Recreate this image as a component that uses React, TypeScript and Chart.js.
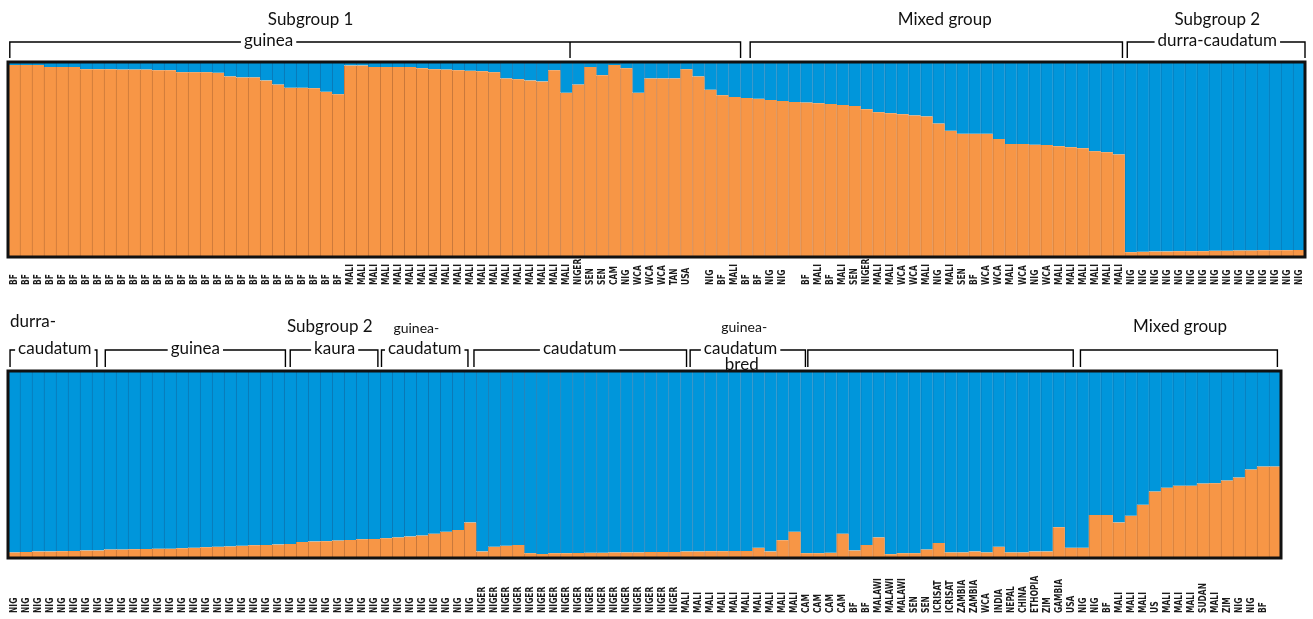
import React, { useEffect, useRef } from "react";
import { Chart, registerables } from "chart.js";
Chart.register(...registerables);

// ---------- DATA ----------
const topLabels: string[] = [
  ...Array(28).fill("BF"),
  ...Array(19).fill("MALI"),
  "NIGER", "SEN", "SEN", "CAM", "NIG", "WCA", "WCA", "WCA", "TAN", "USA",
  "", "NIG", "BF", "MALI", "BF", "BF", "NIG", "NIG", "",
  "BF", "MALI", "BF", "MALI", "SEN", "NIGER", "MALI", "MALI", "WCA", "WCA",
  "MALI", "NIG", "MALI", "SEN", "BF", "WCA", "WCA", "MALI", "WCA", "NIG",
  "WCA", "MALI", "MALI", "MALI", "MALI", "MALI", "MALI",
  ...Array(15).fill("NIG"),
];

const topOrange: number[] = [
  0.985, 0.985, 0.985, 0.974, 0.974, 0.974, 0.963, 0.963, 0.963, 0.961, 0.961, 0.961, 0.958, 0.958,
  0.947, 0.947, 0.947, 0.945, 0.926, 0.921, 0.921, 0.905, 0.884, 0.868, 0.868, 0.866, 0.847, 0.834,
  0.982, 0.982, 0.974, 0.974, 0.974, 0.974, 0.968, 0.963, 0.961, 0.958, 0.955, 0.953, 0.947, 0.916,
  0.911, 0.905, 0.9, 0.958, 0.842, 0.884, 0.974, 0.932, 0.984, 0.968, 0.842, 0.916, 0.916, 0.916,
  0.963, 0.926, 0.858, 0.829,
  0.821, 0.816, 0.811, 0.805, 0.8, 0.795, 0.792, 0.789, 0.784, 0.779, 0.774, 0.758, 0.742, 0.737,
  0.732, 0.726, 0.721, 0.684, 0.647, 0.632, 0.632, 0.632, 0.605, 0.579, 0.579, 0.576, 0.574, 0.568,
  0.563, 0.558, 0.542, 0.537, 0.526,
  0.025, 0.027, 0.028, 0.028, 0.03, 0.03, 0.03, 0.032, 0.032, 0.033, 0.033, 0.035, 0.035, 0.035, 0.036,
];

const bottomLabels: string[] = [
  ...Array(39).fill("NIG"),
  ...Array(17).fill("NIGER"),
  ...Array(10).fill("MALI"),
  "CAM", "CAM", "CAM", "CAM", "BF", "BF", "MALAWI", "MALAWI", "MALAWI", "SEN", "SEN",
  "ICRISAT", "ICRISAT", "ZAMBIA", "ZAMBIA", "WCA", "INDIA", "NEPAL", "CHINA", "ETHOPIA", "ZIM",
  "GAMBIA", "USA", "NIG", "NIG", "BF", "MALI", "MALI", "MALI", "US", "MALI", "MALI", "MALI",
  "SUDAN", "MALI", "ZIM", "NIG", "NIG", "BF", "",
];

const bottomOrange: number[] = [
  0.03, 0.032, 0.035, 0.035, 0.036, 0.038, 0.04, 0.04,
  0.045, 0.045, 0.047, 0.048, 0.05, 0.05, 0.052, 0.055,
  0.058, 0.06, 0.062, 0.065, 0.068, 0.07, 0.072, 0.075,
  0.085, 0.088, 0.09, 0.093, 0.096, 0.1, 0.102, 0.105,
  0.11, 0.115, 0.12, 0.13, 0.14, 0.15, 0.19,
  0.035, 0.06, 0.065, 0.07,
  0.025, 0.022, 0.025, 0.026, 0.027, 0.028, 0.028, 0.03, 0.03, 0.03, 0.032, 0.032, 0.032,
  0.035, 0.035, 0.036, 0.036, 0.038, 0.038,
  0.055, 0.035, 0.095, 0.14, 0.025, 0.025, 0.028, 0.13, 0.04, 0.07, 0.11, 0.02, 0.025, 0.025,
  0.045, 0.08, 0.03, 0.03, 0.035, 0.03, 0.06, 0.03, 0.03, 0.035, 0.035, 0.165, 0.055, 0.055,
  0.23, 0.23, 0.19, 0.226, 0.285, 0.355, 0.376, 0.387, 0.387, 0.398, 0.4, 0.414, 0.43, 0.473,
  0.489, 0.489,
];

// ---------- ANNOTATIONS (positions in bar units) ----------
type Bracket = { from: number; to: number; text?: string; at?: number; ticks?: number[] };
type Header = { text: string; at: number; y: number; align?: CanvasTextAlign; font?: string };

const topBrackets: Bracket[] = [
  { from: 0.15, to: 61, text: "guinea", at: 21.7, ticks: [46.8] },
  { from: 61.8, to: 92.8 },
  { from: 93.2, to: 108, text: "durra-caudatum", at: 100.7 },
];
const topHeaders: Header[] = [
  { text: "Subgroup 1", at: 25.2, y: 20 },
  { text: "Mixed group", at: 78, y: 20 },
  { text: "Subgroup 2", at: 100.7, y: 20 },
];

const bottomBrackets: Bracket[] = [
  { from: 0.17, to: 7.4, text: "caudatum", at: 3.9 },
  { from: 8.1, to: 23.1, text: "guinea", at: 15.6 },
  { from: 23.5, to: 30.8, text: "kaura", at: 27.2 },
  { from: 31.1, to: 38.3, text: "caudatum", at: 34.7 },
  { from: 38.8, to: 56.5, text: "caudatum", at: 47.6 },
  { from: 56.8, to: 66.4, text: "caudatum", at: 61.0 },
  { from: 66.6, to: 88.7 },
  { from: 89.3, to: 105.7 },
];
const bottomHeaders: Header[] = [
  { text: "durra-", at: 0.17, y: 12, align: "left" },
  { text: "Subgroup 2", at: 26.8, y: 17 },
  { text: "guinea-", at: 34.0, y: 18, font: "14px Lato, 'Open Sans', sans-serif" },
  { text: "guinea-", at: 61.3, y: 17, font: "14px Lato, 'Open Sans', sans-serif" },
  { text: "bred", at: 61.1, y: 55 },
  { text: "Mixed group", at: 97.6, y: 17 },
];

const ORANGE = "#F79646";
const BLUE = "#0096DB";
const TEXT_FONT = "17px Lato, 'Open Sans', sans-serif";

function decoPlugin(labels: string[], brackets: Bracket[], headers: Header[], labelBottom: number, lineY: number, tickBottom: number) {
  return {
    id: "deco",
    afterDatasetsDraw(chart: any) {
      const { ctx, chartArea: a } = chart;
      const n = labels.length;
      const bw = (a.right - a.left) / n;
      const ux = (u: number) => a.left + u * bw;
      ctx.save();
      // panel border
      ctx.strokeStyle = "#111";
      ctx.lineWidth = 3;
      ctx.strokeRect(a.left, a.top, a.right - a.left, a.bottom - a.top);
      // tick labels
      ctx.fillStyle = "#1a1a1a";
      ctx.font = "bold 10px 'DejaVu Sans Condensed', 'DejaVu Sans', sans-serif";
      ctx.textAlign = "left";
      ctx.textBaseline = "middle";
      const xs = chart.scales.x;
      labels.forEach((l, i) => {
        if (!l) return;
        ctx.save();
        ctx.translate(xs.getPixelForValue(i), labelBottom);
        ctx.rotate(-Math.PI / 2);
        ctx.scale(0.84, 1.05);
        ctx.fillText(l, 0, 0);
        ctx.restore();
      });
      // brackets
      ctx.strokeStyle = "#000";
      ctx.lineWidth = 1.4;
      ctx.fillStyle = "#111";
      ctx.font = TEXT_FONT;
      ctx.textAlign = "center";
      ctx.textBaseline = "middle";
      brackets.forEach((b) => {
        const x1 = ux(b.from), x2 = ux(b.to);
        ctx.beginPath();
        ctx.moveTo(x1, tickBottom);
        ctx.lineTo(x1, lineY);
        if (b.text && b.at !== undefined) {
          const w = ctx.measureText(b.text).width;
          const cx = ux(b.at);
          const l = Math.max(x1, cx - w / 2 - 3);
          const r = Math.min(x2, cx + w / 2 + 3);
          ctx.lineTo(l, lineY);
          ctx.moveTo(r, lineY);
          ctx.fillText(b.text, cx, lineY - 1);
        }
        ctx.lineTo(x2, lineY);
        ctx.lineTo(x2, tickBottom);
        (b.ticks || []).forEach((t) => {
          ctx.moveTo(ux(t), lineY);
          ctx.lineTo(ux(t), tickBottom);
        });
        ctx.stroke();
      });
      headers.forEach((h) => {
        ctx.font = h.font || TEXT_FONT;
        ctx.textAlign = h.align || "center";
        ctx.fillText(h.text, ux(h.at), h.y);
      });
      ctx.restore();
    },
  };
}

function makeConfig(labels: string[], orange: number[], pad: any, plugin: any): any {
  return {
    type: "bar",
    data: {
      labels,
      datasets: [
        {
          label: "Cluster 1",
          data: orange,
          backgroundColor: ORANGE,
          borderColor: "#C9783A",
          borderWidth: { left: 1, right: 0, top: 0, bottom: 0 },
          borderSkipped: false,
          barPercentage: 1,
          categoryPercentage: 1,
        },
        {
          label: "Cluster 2",
          data: orange.map((v) => 1 - v),
          backgroundColor: BLUE,
          borderColor: "#0A78B5",
          borderWidth: { left: 1, right: 0, top: 0, bottom: 0 },
          borderSkipped: false,
          barPercentage: 1,
          categoryPercentage: 1,
        },
      ],
    },
    options: {
      animation: false,
      responsive: false,
      devicePixelRatio: 1,
      layout: { padding: pad },
      plugins: { legend: { display: false }, tooltip: { enabled: false } },
      scales: {
        x: { stacked: true, display: false },
        y: { stacked: true, display: false, min: 0, max: 1 },
      },
    },
    plugins: [plugin],
  };
}

export default function App() {
  const topRef = useRef<HTMLCanvasElement>(null);
  const botRef = useRef<HTMLCanvasElement>(null);
  useEffect(() => {
    const c1 = new Chart(
      topRef.current!,
      makeConfig(topLabels, topOrange, { left: 8, right: 8, top: 62, bottom: 55 },
        decoPlugin(topLabels, topBrackets, topHeaders, 285, 42, 58))
    );
    const c2 = new Chart(
      botRef.current!,
      makeConfig(bottomLabels, bottomOrange, { left: 8, right: 32, top: 61, bottom: 61 },
        decoPlugin(bottomLabels, bottomBrackets, bottomHeaders, 303, 40, 57))
    );
    return () => {
      c1.destroy();
      c2.destroy();
    };
  }, []);
  return (
    <div style={{ position: "fixed", left: 0, top: 0, width: 1313, height: 619, background: "#fff" }}>
      <canvas ref={topRef} width={1313} height={312} style={{ position: "absolute", left: 0, top: 0 }} />
      <canvas ref={botRef} width={1313} height={309} style={{ position: "absolute", left: 0, top: 310 }} />
    </div>
  );
}
